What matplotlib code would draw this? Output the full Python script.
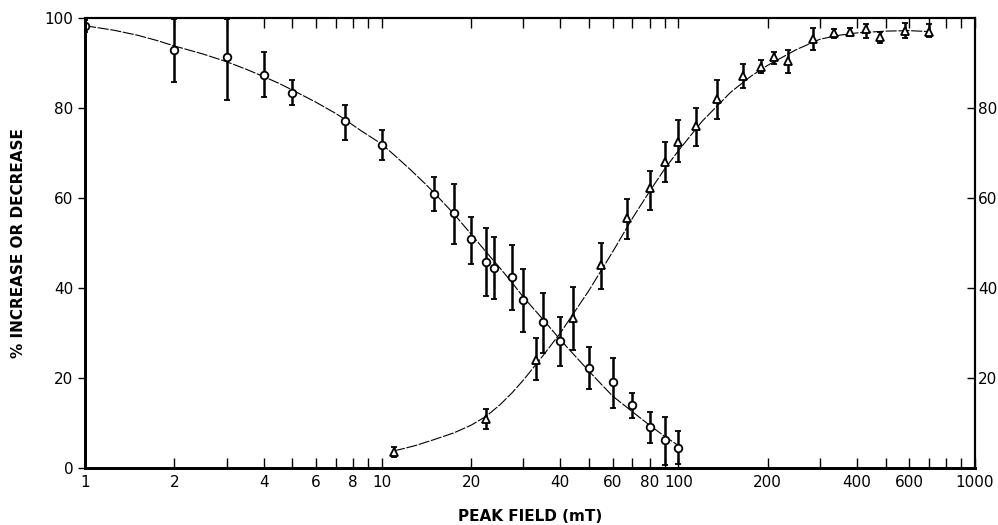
import matplotlib.pyplot as plt
import numpy as np

# decrease series (circles)
dec_x = [1, 2, 3, 4, 5, 7.5, 10, 15, 17.5, 20, 22.5, 24, 27.5, 30, 35, 40, 50, 60, 70, 80, 90, 100]
dec_y = [98.2, 92.9, 91.3, 87.3, 83.3, 77.1, 71.8, 61.0, 56.6, 50.8, 45.8, 44.5, 42.4, 37.3, 32.4, 28.2, 22.3, 19.0, 14.0, 9.0, 6.2, 4.5]
dec_hi = [99.5, 99.8, 99.8, 92.4, 86.2, 80.7, 75.1, 64.7, 63.1, 55.8, 53.4, 51.3, 49.5, 44.2, 39.0, 33.6, 26.8, 24.5, 16.7, 12.4, 11.4, 8.3]
dec_lo = [97.0, 85.8, 81.8, 82.4, 80.6, 72.9, 68.4, 57.1, 49.7, 45.3, 38.2, 37.5, 35.1, 30.3, 25.5, 22.7, 17.6, 13.4, 11.0, 5.5, 0.7, 0.9]

# increase series (triangles)
inc_x = [11, 22.5, 33, 44, 55, 67, 80, 90, 100, 115, 135, 165, 190, 210, 235, 285, 335, 380, 430, 480, 580, 700]
inc_y = [3.5, 10.9, 24.0, 33.3, 45.1, 55.5, 62.2, 68.1, 72.5, 76.0, 81.9, 87.1, 89.2, 91.3, 90.4, 95.3, 96.6, 96.8, 97.5, 95.7, 97.2, 96.8]
inc_hi = [4.7, 13.0, 28.8, 40.3, 50.1, 59.8, 66.0, 72.5, 77.3, 79.9, 86.2, 89.9, 90.7, 92.5, 93.0, 97.7, 97.6, 97.7, 98.7, 97.0, 98.8, 98.7]
inc_lo = [2.5, 8.6, 19.6, 26.2, 39.7, 51.0, 57.3, 63.6, 67.9, 71.6, 77.5, 84.4, 87.8, 89.9, 87.8, 93.0, 95.6, 96.0, 95.5, 94.5, 95.5, 95.8]

# hand-drawn fitted curves
dec_curve_x = [1, 1.25, 1.5, 1.75, 2, 2.5, 3, 3.5, 4, 4.5, 5, 6, 7, 7.5, 8.5, 10, 11, 12.5, 14, 15, 17.5, 20,
               22.5, 25, 27.5, 30, 35, 40, 45, 50, 55, 60, 70, 80, 90, 100]
dec_curve_y = [98.3, 97.3, 96.2, 95.0, 93.8, 92.0, 90.3, 88.6, 87.0, 85.5, 84.0, 81.3, 78.8, 77.5, 75.0, 72.0, 69.6, 66.3, 63.2, 61.2, 56.5, 52.0,
               48.0, 44.5, 41.2, 38.0, 33.0, 28.5, 24.8, 21.5, 18.6, 16.0, 12.5, 9.5, 7.0, 5.0]
inc_curve_x = [11, 12, 13, 15, 17.5, 20, 22.5, 25, 27.5, 30, 35, 40, 45, 50, 60, 70, 80, 90, 100, 120, 150, 175,
               200, 250, 300, 350, 400, 500, 600, 700]
inc_curve_y = [3.8, 4.4, 5.0, 6.3, 7.8, 9.5, 11.5, 14.0, 16.7, 19.5, 25.0, 30.0, 35.0, 39.5, 48.0, 55.5, 61.5, 66.5, 70.5, 77.0, 83.5, 87.0,
               89.5, 93.0, 95.3, 96.2, 96.7, 97.1, 97.2, 97.0]

xtick_vals = [1, 2, 4, 6, 8, 10, 20, 40, 60, 80, 100, 200, 400, 600, 1000]
xtick_labels = ["1", "2", "4", "6", "8", "10", "20", "40", "60", "80", "100", "200", "400", "600", "1000"]
xminor_vals = [3, 5, 7, 9, 30, 50, 70, 90, 300, 500, 700, 800, 900]

fig = plt.figure(figsize=(9.98, 5.25), dpi=100)
ax = fig.add_axes([0.0852, 0.1086, 0.8918, 0.857])

ax.plot(dec_curve_x, dec_curve_y, color="black", lw=0.8, ls=(0, (10, 1.5)))
ax.plot(inc_curve_x, inc_curve_y, color="black", lw=0.8, ls=(0, (10, 1.5)))

dx = np.array(dec_x); dy = np.array(dec_y)
derr = [dy - np.array(dec_lo), np.array(dec_hi) - dy]
ax.errorbar(dx, dy, yerr=derr, fmt="o", mfc="white", mec="black", mew=1.3, ms=5.5,
            ecolor="black", elinewidth=1.8, capsize=2.5, capthick=1.3)

ix = np.array(inc_x); iy = np.array(inc_y)
ierr = [iy - np.array(inc_lo), np.array(inc_hi) - iy]
ax.errorbar(ix, iy, yerr=ierr, fmt="^", mfc="white", mec="black", mew=1.3, ms=5.5,
            ecolor="black", elinewidth=1.8, capsize=2.5, capthick=1.3)

ax.set_xscale("log")
ax.set_xlim(1, 1000)
ax.set_ylim(0, 100)
ax.set_xticks(xtick_vals)
ax.set_xticklabels(xtick_labels)
ax.set_xticks(xminor_vals, minor=True)
ax.set_xticklabels([], minor=True)
ax.tick_params(axis="x", which="both", direction="in", top=True, length=7, width=1,
               labelsize=11, pad=5)
ax.set_yticks([0, 20, 40, 60, 80, 100])
ax.tick_params(axis="y", direction="out", length=5, width=1, labelsize=11)

ax2 = ax.twinx()
ax2.set_ylim(0, 100)
ax2.set_yticks([20, 40, 60, 80])
ax2.tick_params(axis="y", direction="in", length=6, width=1, labelsize=11, pad=2)

for a in (ax, ax2):
    a.spines["left"].set_linewidth(2)
    a.spines["bottom"].set_linewidth(2)
    a.spines["top"].set_linewidth(1.5)
    a.spines["right"].set_linewidth(1.5)

ax.set_xlabel("PEAK FIELD (mT)", fontsize=11, fontweight="bold", labelpad=14)
ax.set_ylabel("% INCREASE OR DECREASE", fontsize=11, fontweight="bold", labelpad=13)

plt.savefig("out.png", dpi=100)
